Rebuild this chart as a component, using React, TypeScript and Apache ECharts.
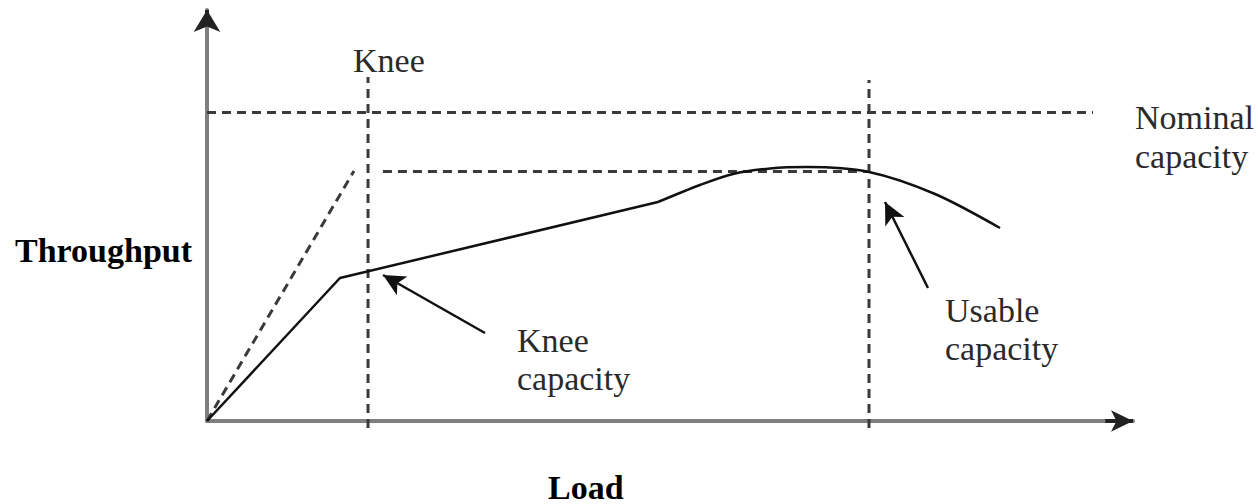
import React, { useEffect, useRef } from "react";
import * as echarts from "echarts";

// Conceptual throughput-vs-load curve (data units: 0..100 on both axes)
const throughputLinear: [number, number][] = [
  [0, 0],
  [14.36, 34.79],
  [48.7, 53.28],
];
const throughputSmooth: [number, number][] = [
  [48.7, 53.28],
  [53.24, 57.42],
  [56.8, 60.1],
  [60.8, 61.44],
  [64.79, 61.8],
  [71.49, 60.58],
  [78.62, 55.23],
  [85.64, 46.96],
];
const idealLine: [number, number][] = [
  [0, 0],
  [15.87, 60.83],
];
const nominalLine: [number, number][] = [
  [0, 75.06],
  [95.68, 75.06],
];
const usableLevelLine: [number, number][] = [
  [19.0, 60.71],
  [71.49, 60.71],
];
const kneeVertical: [number, number][] = [
  [17.39, -1.7],
  [17.39, 83.7],
];
const usableVertical: [number, number][] = [
  [71.49, -1.7],
  [71.49, 82.97],
];
// arrows: [tail, head]
const kneeArrow: [number, number][] = [
  [30.02, 21.41],
  [19.01, 35.52],
];
const usableArrow: [number, number][] = [
  [77.86, 32.36],
  [73.22, 53.28],
];
const xAxisArrow: [number, number][] = [
  [97, 0],
  [100, 0],
];
const yAxisArrow: [number, number][] = [
  [0, 97],
  [0, 100],
];

const SERIF = "'Liberation Serif', 'DejaVu Serif', serif";
const DASH_COLOR = "#3a3a3a";
const AXIS_COLOR = "#7f7f7f";

export default function App() {
  const ref = useRef<HTMLDivElement>(null);

  useEffect(() => {
    if (!ref.current) return;
    const chart = echarts.init(ref.current, undefined, { renderer: "svg" });

    const dashed = (data: [number, number][]) => ({
      type: "line",
      data,
      symbol: "none",
      clip: false,
      silent: true,
      lineStyle: { color: DASH_COLOR, width: 3, type: [9, 6] },
      z: 2,
    });

    const arrow = (pts: [number, number][], size: number[], width: number, color: string) => ({
      type: "line",
      data: [],
      symbol: "none",
      silent: true,
      z: 4,
      markLine: {
        silent: true,
        clip: false,
        symbol: ["none", "arrow"],
        symbolSize: size,
        label: { show: false },
        emphasis: { disabled: true },
        lineStyle: { color, width, type: "solid" },
        data: [[{ coord: pts[0] }, { coord: pts[1] }]],
      },
    });

    const txt = (text: string, x: number, y: number, bold = false, color = "#2a2a2a") => ({
      type: "text",
      x,
      y,
      silent: true,
      style: {
        text,
        fill: color,
        font: `${bold ? "bold " : ""}34px ${SERIF}`,
        align: "left",
        verticalAlign: "middle",
      },
    });

    const axisCommon = {
      type: "value",
      min: 0,
      max: 100,
      axisTick: { show: false },
      axisLabel: { show: false },
      splitLine: { show: false },
      axisLine: {
        show: true,
        lineStyle: { color: AXIS_COLOR, width: 4 },
      },
    };

    chart.setOption({
      animation: false,
      backgroundColor: "#fff",
      grid: { left: 207, right: 125, top: 10, bottom: 83 },
      xAxis: { ...axisCommon },
      yAxis: { ...axisCommon },
      series: [
        dashed(nominalLine),
        dashed(usableLevelLine),
        dashed(kneeVertical),
        dashed(usableVertical),
        dashed(idealLine),
        {
          type: "line",
          data: throughputLinear,
          symbol: "none",
          silent: true,
          lineStyle: { color: "#111", width: 2.5 },
          z: 3,
        },
        {
          type: "line",
          data: throughputSmooth,
          symbol: "none",
          smooth: 0.3,
          silent: true,
          lineStyle: { color: "#111", width: 2.5 },
          z: 3,
        },
        arrow(kneeArrow, [16, 22], 2.5, "#111"),
        arrow(usableArrow, [16, 22], 2.5, "#111"),
        arrow(xAxisArrow, [16, 22], 4, "#222"),
        arrow(yAxisArrow, [20, 22], 4, "#222"),
      ],
      graphic: [
        txt("Knee", 353, 60),
        txt("Knee", 517, 340),
        txt("capacity", 517, 378),
        txt("Usable", 945, 310),
        txt("capacity", 945, 348),
        txt("Nominal", 1135, 117),
        txt("capacity", 1135, 156),
        txt("Throughput", 15, 250, true, "#000"),
        txt("Load", 548, 487, true, "#000"),
      ],
    });

    return () => chart.dispose();
  }, []);

  return (
    <div
      ref={ref}
      style={{ position: "fixed", left: 0, top: 0, width: 1258, height: 504, background: "#fff" }}
    />
  );
}
